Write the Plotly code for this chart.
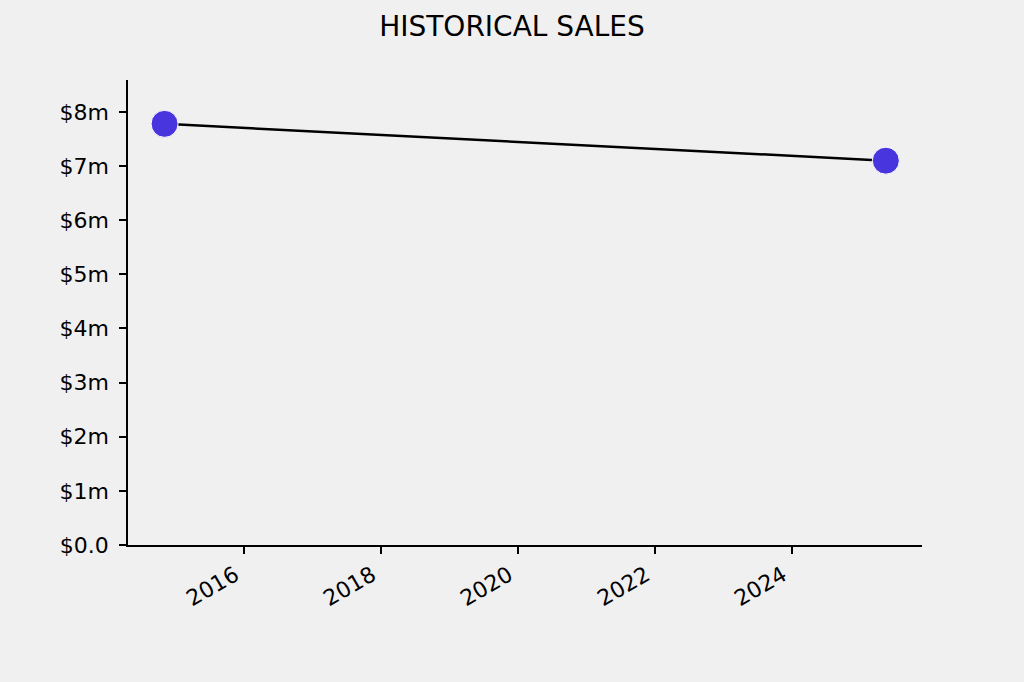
import plotly.graph_objects as go

dates = ["2014-11-03", "2025-05-16"]
sales_m = [7.78, 7.10]
y_tickvals = [0, 1, 2, 3, 4, 5, 6, 7, 8]
y_ticktext = ["$0.0", "$1m", "$2m", "$3m", "$4m", "$5m", "$6m", "$7m", "$8m"]
x_tickvals = ["2016-01-01", "2018-01-01", "2020-01-01", "2022-01-01", "2024-01-01"]
x_ticktext = ["2016", "2018", "2020", "2022", "2024"]

fig = go.Figure()
fig.add_trace(go.Scatter(
    x=dates, y=sales_m, mode="lines+markers",
    line=dict(color="black", width=2.5),
    marker=dict(color="#4935dd", size=27, line=dict(color="white", width=1)),
    showlegend=False,
))

fig.update_layout(
    width=1024, height=682,
    paper_bgcolor="#f0f0f0", plot_bgcolor="#f0f0f0",
    margin=dict(l=128, r=102, t=80, b=137),
    font=dict(family="DejaVu Sans", size=22, color="black"),
    title=dict(text="HISTORICAL SALES", x=0.5, xanchor="center",
               y=1 - 26 / 682, yanchor="middle", font=dict(size=28)),
)
fig.update_xaxes(
    type="date", range=["2014-04-22", "2025-11-25"],
    tickvals=x_tickvals, ticktext=x_ticktext, tickangle=-30,
    ticklabelshift=-9,
    showgrid=False, zeroline=False, showline=True, linecolor="black", linewidth=1.5,
    ticks="outside", ticklen=7, tickwidth=1.5, tickcolor="black",
)
fig.update_yaxes(
    range=[0, 8.59], tickvals=y_tickvals, ticktext=y_ticktext,
    ticklabelstandoff=6,
    showgrid=False, zeroline=False, showline=True, linecolor="black", linewidth=1.5,
    ticks="outside", ticklen=7, tickwidth=1.5, tickcolor="black",
)

fig.write_html(
    "out.html",
    config={"displayModeBar": False},
    post_script="document.body.style.margin='0';document.body.style.background='#f0f0f0';document.body.style.overflow='hidden';",
)
